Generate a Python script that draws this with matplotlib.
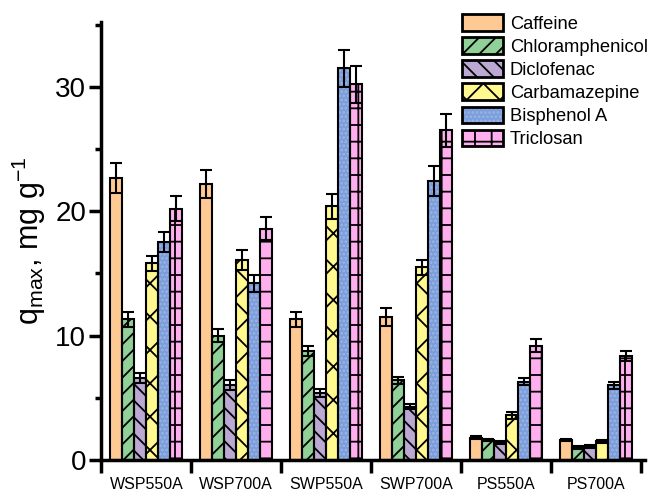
import numpy as np
import matplotlib
matplotlib.use("Agg")
import matplotlib.pyplot as plt
from matplotlib.patches import Patch
from matplotlib.legend_handler import HandlerTuple

plt.rcParams['font.family'] = ['Liberation Sans', 'DejaVu Sans']
plt.rcParams['mathtext.default'] = 'regular'
plt.rcParams['hatch.linewidth'] = 1.3

# data
samples = ["WSP550A", "WSP700A", "SWP550A", "SWP700A", "PS550A", "PS700A"]
compounds = ["Caffeine", "Chloramphenicol", "Diclofenac", "Carbamazepine", "Bisphenol A", "Triclosan"]

caffeine = [22.7, 22.2, 11.3, 11.5, 1.8, 1.6]
caffeine_err = [1.2, 1.1, 0.6, 0.7, 0.1, 0.1]
chloramphenicol = [11.3, 10.0, 8.8, 6.4, 1.6, 1.0]
chloramphenicol_err = [0.6, 0.5, 0.4, 0.3, 0.1, 0.1]
diclofenac = [6.6, 6.0, 5.4, 4.3, 1.4, 1.1]
diclofenac_err = [0.4, 0.4, 0.3, 0.2, 0.1, 0.1]
carbamazepine = [15.8, 16.1, 20.4, 15.5, 3.6, 1.5]
carbamazepine_err = [0.6, 0.8, 1.0, 0.6, 0.3, 0.1]
bisphenol = [17.5, 14.2, 31.5, 22.4, 6.3, 6.0]
bisphenol_err = [0.8, 0.7, 1.5, 1.2, 0.3, 0.3]
triclosan = [20.2, 18.6, 30.2, 26.5, 9.2, 8.4]
triclosan_err = [1.0, 0.9, 1.5, 1.3, 0.5, 0.4]

values = [caffeine, chloramphenicol, diclofenac, carbamazepine, bisphenol, triclosan]
errors = [caffeine_err, chloramphenicol_err, diclofenac_err, carbamazepine_err, bisphenol_err, triclosan_err]

colors = ["#FFC993", "#8FD196", "#BBA9D3", "#FFF98F", "#7C9DDB", "#FFAEEE"]
hatches = [None, "//", "\\\\", "x", "....", "+"]
hatch_cols = ["k", "k", "k", "k", "#9bb5e6", "k"]

fig = plt.figure(figsize=(6.54, 4.92), dpi=100)
ax = fig.add_axes([0.155, 0.065, 0.832, 0.89])

x = np.arange(len(samples))
w = 0.133
for i in range(len(compounds)):
    xs = x + (i - 2.5) * w
    # fill + hatch first, outline on top
    ax.bar(xs, values[i], w, color=colors[i], hatch=hatches[i],
           edgecolor=hatch_cols[i], linewidth=0, zorder=2)
    ax.bar(xs, values[i], w, fill=False, edgecolor="k", linewidth=1.5, zorder=3)
    ax.errorbar(xs, values[i], yerr=errors[i], fmt="none", ecolor="k",
                elinewidth=1.5, capsize=4, capthick=1.5, zorder=4)

ax.set_xlim(-0.5, 5.55)
ax.set_ylim(0, 35.2)
ax.set_xticks(x)
ax.set_xticklabels(samples, fontsize=11.5)
ax.set_xticks(np.arange(-0.5, 5.6, 1), minor=True)
ax.tick_params(axis="x", which="major", length=0, pad=12)
ax.tick_params(axis="x", which="minor", length=9, width=2.5, direction="out")

ax.set_yticks([0, 10, 20, 30])
ax.set_yticks([5, 15, 25, 35], minor=True)
ax.tick_params(axis="y", which="major", length=9, width=2.5, labelsize=20, pad=2)
ax.tick_params(axis="y", which="minor", length=4, width=2.5)

for s in ["top", "right"]:
    ax.spines[s].set_visible(False)
for s in ["left", "bottom"]:
    ax.spines[s].set_linewidth(2.5)

ax.set_ylabel("q$_{max}$, mg g$^{-1}$", fontsize=22, labelpad=5)

handles = [(Patch(facecolor=colors[i], hatch=hatches[i], edgecolor=hatch_cols[i], linewidth=0),
            Patch(fill=False, edgecolor="k", linewidth=2))
           for i in range(len(compounds))]
ax.legend(handles, compounds, loc="upper left", bbox_to_anchor=(0.662, 1.018),
          frameon=False, fontsize=13.2, handlelength=2.25, handleheight=1.0,
          handletextpad=0.38, labelspacing=0.25, borderaxespad=0, borderpad=0,
          handler_map={tuple: HandlerTuple(ndivide=1, pad=0)})

fig.savefig("out.png", dpi=100)
